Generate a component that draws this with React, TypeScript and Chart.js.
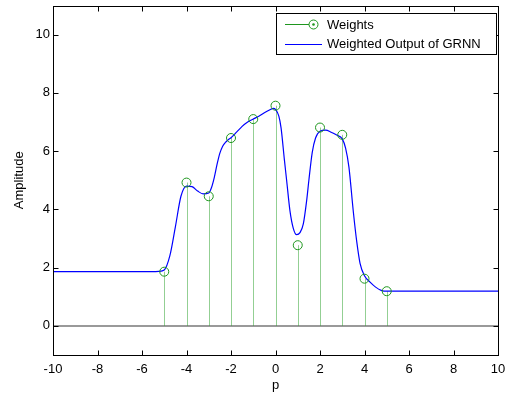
import React, { useEffect, useRef } from "react";
import { Chart, registerables } from "chart.js";

Chart.register(...registerables);

// ---- Data ----
const xTicks = [-10, -8, -6, -4, -2, 0, 2, 4, 6, 8, 10];
const yTicks = [0, 2, 4, 6, 8, 10];

const weightP = [-5, -4, -3, -2, -1, 0, 1, 2, 3, 4, 5];
const weightVals = [1.86, 4.92, 4.45, 6.45, 7.1, 7.56, 2.77, 6.81, 6.56, 1.62, 1.19];

const curveP = [-10, -5.5, -5.25, -5, -4.75, -4.5, -4.25, -4, -3.75, -3.5, -3.25, -3, -2.875, -2.75, -2.625, -2.5, -2.375, -2.25, -2.125, -2, -1.75, -1.5, -1.25, -1, -0.75, -0.5, -0.25, -0.1, 0, 0.15, 0.25, 0.4, 0.5, 0.65, 0.8, 0.95, 1.1, 1.25, 1.4, 1.5, 1.65, 1.8, 2, 2.25, 2.5, 2.75, 3, 3.15, 3.3, 3.5, 3.65, 3.8, 4, 4.25, 4.5, 4.75, 5, 5.5, 10];
const curveVals = [1.86, 1.86, 1.87, 1.92, 2.4, 3.4, 4.45, 4.8, 4.78, 4.63, 4.53, 4.56, 4.75, 5.1, 5.55, 5.93, 6.17, 6.3, 6.39, 6.46, 6.65, 6.85, 7.0, 7.1, 7.2, 7.32, 7.42, 7.47, 7.43, 7.2, 6.8, 5.7, 5.0, 3.95, 3.35, 3.13, 3.2, 3.5, 4.3, 5.0, 5.95, 6.45, 6.68, 6.72, 6.65, 6.55, 6.42, 6.1, 5.45, 3.9, 2.9, 2.15, 1.72, 1.5, 1.33, 1.22, 1.19, 1.19, 1.19];

const legendLabels = ["Weights", "Weighted Output of GRNN"];
const xTitle = "p";
const yTitle = "Amplitude";

const FONT = "Liberation Sans, Arial, Helvetica, sans-serif";
const STEM_COLOR = "rgba(40,160,40,0.5)";
const MARKER_COLOR = "#1e961e";
const LINE_COLOR = "#0000ff";

const matlabPlugin = {
  id: "matlabAxes",
  beforeDatasetsDraw(chart: any) {
    const { ctx, chartArea, scales } = chart;
    const xs = scales.x;
    const ys = scales.y;
    const y0 = ys.getPixelForValue(0);
    ctx.save();
    ctx.strokeStyle = "#777777";
    ctx.lineWidth = 1.5;
    ctx.beginPath();
    ctx.moveTo(chartArea.left, y0);
    ctx.lineTo(chartArea.right, y0);
    ctx.stroke();
    ctx.strokeStyle = STEM_COLOR;
    ctx.lineWidth = 1;
    weightP.forEach((p, i) => {
      const px = Math.round(xs.getPixelForValue(p)) + 0.5;
      ctx.beginPath();
      ctx.moveTo(px, y0);
      ctx.lineTo(px, ys.getPixelForValue(weightVals[i]));
      ctx.stroke();
    });
    ctx.restore();
  },
  afterDraw(chart: any) {
    const { ctx, chartArea, scales } = chart;
    const xs = scales.x;
    const ys = scales.y;
    const L = Math.round(chartArea.left) + 0.5;
    const R = Math.round(chartArea.right) + 0.5;
    const T = Math.round(chartArea.top) + 0.5;
    const B = Math.round(chartArea.bottom) + 0.5;
    const tl = 5;
    ctx.save();
    ctx.strokeStyle = "#000000";
    ctx.lineWidth = 1;
    ctx.strokeRect(L, T, R - L, B - T);
    ctx.beginPath();
    xTicks.forEach((v) => {
      const px = Math.round(xs.getPixelForValue(v)) + 0.5;
      ctx.moveTo(px, B);
      ctx.lineTo(px, B - tl);
      ctx.moveTo(px, T);
      ctx.lineTo(px, T + tl);
    });
    yTicks.forEach((v) => {
      const py = Math.round(ys.getPixelForValue(v)) + 0.5;
      ctx.moveTo(L, py);
      ctx.lineTo(L + tl, py);
      ctx.moveTo(R, py);
      ctx.lineTo(R - tl, py);
    });
    ctx.stroke();

    // legend
    const bx = 276.5, by = 13.5, bw = 220, bh = 41;
    ctx.fillStyle = "#ffffff";
    ctx.fillRect(bx, by, bw, bh);
    ctx.strokeStyle = "#000000";
    ctx.strokeRect(bx, by, bw, bh);
    const r1 = 24.5, r2 = 44.5;
    ctx.strokeStyle = MARKER_COLOR;
    ctx.lineWidth = 1;
    ctx.beginPath();
    ctx.moveTo(285, r1);
    ctx.lineTo(309, r1);
    ctx.stroke();
    ctx.beginPath();
    ctx.arc(313.5, r1, 4.5, 0, Math.PI * 2);
    ctx.stroke();
    ctx.fillStyle = MARKER_COLOR;
    ctx.beginPath();
    ctx.arc(313.5, r1, 1.3, 0, Math.PI * 2);
    ctx.fill();
    ctx.strokeStyle = LINE_COLOR;
    ctx.beginPath();
    ctx.moveTo(285, r2);
    ctx.lineTo(322, r2);
    ctx.stroke();
    ctx.fillStyle = "#000000";
    ctx.font = `13px ${FONT}`;
    ctx.textBaseline = "middle";
    ctx.textAlign = "left";
    ctx.fillText(legendLabels[0], 327, r1 + 0.5);
    ctx.fillText(legendLabels[1], 327, r2);
    ctx.restore();
  },
};

export default function App() {
  const ref = useRef<HTMLCanvasElement | null>(null);
  useEffect(() => {
    if (!ref.current) return;
    const curveData = curveP.map((p, i) => ({ x: p, y: curveVals[i] }));
    const weightData = weightP.map((p, i) => ({ x: p, y: weightVals[i] }));
    const chart = new Chart(ref.current, {
      type: "scatter",
      data: {
        datasets: [
          {
            label: legendLabels[0],
            data: weightData,
            showLine: false,
            pointStyle: "circle",
            pointRadius: 4.5,
            pointBorderWidth: 1,
            pointBorderColor: MARKER_COLOR,
            pointBackgroundColor: "rgba(0,0,0,0)",
            order: 0,
          } as any,
          {
            label: legendLabels[1],
            data: curveData,
            showLine: true,
            borderColor: LINE_COLOR,
            borderWidth: 1.2,
            pointRadius: 0,
            cubicInterpolationMode: "monotone",
            order: 1,
          } as any,
        ],
      },
      options: {
        responsive: false,
        animation: false,
        devicePixelRatio: 1,
        layout: { padding: { top: 5, right: 7, left: 0, bottom: 0 } },
        plugins: {
          legend: { display: false },
          tooltip: { enabled: false },
        },
        scales: {
          x: {
            type: "linear",
            min: -10,
            max: 10,
            grid: { display: false, drawTicks: false },
            border: { display: false },
            afterBuildTicks: (s: any) => {
              s.ticks = xTicks.map((v) => ({ value: v }));
            },
            afterFit: (s: any) => {
              s.height = 41;
              s.paddingLeft = 0;
              s.paddingRight = 0;
            },
            ticks: {
              color: "#000",
              font: { family: FONT, size: 13 },
              padding: 7,
              maxRotation: 0,
              autoSkip: false,
            },
            title: {
              display: true,
              text: xTitle,
              color: "#000",
              font: { family: FONT, size: 13 },
              padding: { top: 0, bottom: 3 },
            },
          },
          y: {
            type: "linear",
            min: -1,
            max: 11,
            grid: { display: false, drawTicks: false },
            border: { display: false },
            afterBuildTicks: (s: any) => {
              s.ticks = yTicks.map((v) => ({ value: v }));
            },
            afterFit: (s: any) => {
              s.width = 53;
              s.paddingTop = 0;
              s.paddingBottom = 0;
            },
            ticks: {
              color: "#000",
              font: { family: FONT, size: 13 },
              padding: 3,
              autoSkip: false,
            },
            title: {
              display: true,
              text: yTitle,
              color: "#000",
              font: { family: FONT, size: 13 },
              padding: { top: 12, bottom: 0 },
            },
          },
        },
      },
      plugins: [matlabPlugin],
    } as any);
    return () => chart.destroy();
  }, []);
  return (
    <div style={{ position: "absolute", left: 0, top: 0, width: 505, height: 396, background: "#fff" }}>
      <canvas ref={ref} width={505} height={396} style={{ width: 505, height: 396, display: "block" }} />
    </div>
  );
}
